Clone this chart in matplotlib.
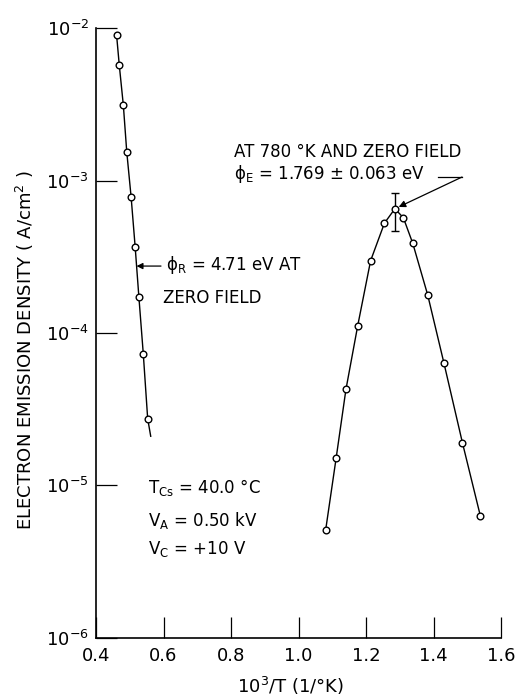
import matplotlib
matplotlib.use("Agg")
import matplotlib.pyplot as plt
import numpy as np

plt.rcParams['font.family'] = ['DejaVu Sans']
plt.rcParams['mathtext.fontset'] = 'dejavusans'

# Left series (retarding region)
left_x = [0.461, 0.469, 0.481, 0.491, 0.504, 0.516, 0.527, 0.540, 0.553]
left_y = [9.0e-3, 5.7e-3, 3.12e-3, 1.55e-3, 7.8e-4, 3.66e-4, 1.72e-4, 7.3e-5, 2.74e-5]
left_line_end = (0.562, 2.1e-5)

# Right series (peak)
right_x = [1.080, 1.111, 1.140, 1.175, 1.213, 1.254, 1.285, 1.310, 1.338,
           1.382, 1.430, 1.485, 1.538]
right_y = [5.1e-6, 1.51e-5, 4.26e-5, 1.12e-4, 2.98e-4, 5.26e-4, 6.54e-4,
           5.71e-4, 3.87e-4, 1.78e-4, 6.37e-5, 1.90e-5, 6.3e-6]

# Error bar at the 780 K point
peak_x = 1.285
peak_y = 6.54e-4
peak_err_low = 4.67e-4
peak_err_high = 8.24e-4

x_ticks = [0.4, 0.6, 0.8, 1.0, 1.2, 1.4, 1.6]
x_tick_labels = ["0.4", "0.6", "0.8", "1.0", "1.2", "1.4", "1.6"]
y_ticks = [1e-6, 1e-5, 1e-4, 1e-3, 1e-2]
y_tick_labels = [r"$\mathregular{10^{-6}}$", r"$\mathregular{10^{-5}}$",
                 r"$\mathregular{10^{-4}}$", r"$\mathregular{10^{-3}}$",
                 r"$\mathregular{10^{-2}}$"]

W, H = 516, 698
fig = plt.figure(figsize=(W / 100, H / 100), dpi=100)
ax = fig.add_axes([96 / W, 1 - 637.7 / H, (501.3 - 96) / W, (637.7 - 28.3) / H])

ax.set_yscale('log')
ax.set_xlim(0.4, 1.6)
ax.set_ylim(1e-6, 1e-2)

lw = 1.0
ax.plot(list(left_x) + [left_line_end[0]], list(left_y) + [left_line_end[1]],
        color='black', lw=lw, zorder=2)
ax.plot(left_x, left_y, 'o', mfc='white', mec='black', mew=1.0, ms=4.8, zorder=3)
ax.plot(right_x, right_y, color='black', lw=lw, zorder=2)
ax.plot(right_x, right_y, 'o', mfc='white', mec='black', mew=1.0, ms=4.8, zorder=3)
ax.errorbar([peak_x], [peak_y],
            yerr=[[peak_y - peak_err_low], [peak_err_high - peak_y]],
            fmt='none', ecolor='black', elinewidth=1.0, capsize=3, capthick=1.0,
            zorder=1)

for s in ['top', 'right']:
    ax.spines[s].set_visible(False)
for s in ['left', 'bottom']:
    ax.spines[s].set_linewidth(1.2)

ax.set_xticks(x_ticks)
ax.set_xticklabels(x_tick_labels)
ax.set_yticks(y_ticks)
ax.set_yticklabels(y_tick_labels)
ax.minorticks_off()
ax.yaxis.set_minor_locator(matplotlib.ticker.NullLocator())
ax.tick_params(direction='in', length=15, width=0.9, labelsize=13, pad=5)
ax.tick_params(axis='x', pad=7)

fs = 12
# Annotations
ax.text(0.8086, 1.43e-3, "AT 780 °K AND ZERO FIELD", fontsize=fs, va='baseline', ha='left')
ax.text(0.8086, 1.026e-3, "ϕ" + r"$_{\mathregular{E}}$" + " = 1.769 ± 0.063 eV", fontsize=fs,
        va='baseline', ha='left')
ax.plot([1.4126, 1.4836], [1.056e-3, 1.056e-3], color='black', lw=0.9)
ax.annotate('', xy=(peak_x, peak_y), xytext=(1.4836, 1.056e-3),
            arrowprops=dict(arrowstyle='-|>', color='black', lw=0.9,
                            mutation_scale=10, shrinkA=0, shrinkB=3))

ax.annotate('', xy=(0.520, 2.75e-4), xytext=(0.5924, 2.75e-4),
            arrowprops=dict(arrowstyle='-|>', color='black', lw=0.9,
                            mutation_scale=9, shrinkA=0, shrinkB=0))
ax.text(0.607, 2.59e-4, "ϕ" + r"$_{\mathregular{R}}$" + " = 4.71 eV AT", fontsize=fs,
        va='baseline', ha='left')
ax.text(0.598, 1.57e-4, "ZERO FIELD", fontsize=fs, va='baseline', ha='left')

ax.text(0.554, 8.91e-6, r"$\mathregular{T_{Cs}}$" + " = 40.0 °C", fontsize=fs,
        va='baseline', ha='left')
ax.text(0.554, 5.41e-6, r"$\mathregular{V_{A}}$" + " = 0.50 kV", fontsize=fs,
        va='baseline', ha='left')
ax.text(0.554, 3.54e-6, r"$\mathregular{V_{C}}$" + " = +10 V", fontsize=fs,
        va='baseline', ha='left')

fig.text(25 / W, 1 - 350 / H, r"ELECTRON EMISSION DENSITY ( A/cm$^{2}$ )",
         rotation=90, fontsize=13, ha='center', va='center')
fig.text(291 / W, 1 - 693 / H, r"$\mathregular{10^{3}}$/T (1/°K)", fontsize=13,
         ha='center', va='baseline')

fig.savefig('out.png', dpi=100)
